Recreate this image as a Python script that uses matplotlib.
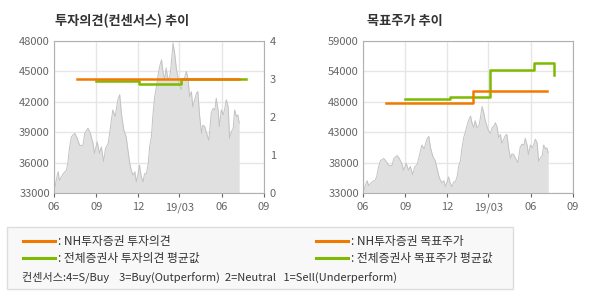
import matplotlib
matplotlib.use('Agg')
from matplotlib import pyplot as plt
from matplotlib.patches import Rectangle
from matplotlib.lines import Line2D

plt.rcParams['font.family'] = ['Noto Sans CJK KR', 'DejaVu Sans']

# 주가 (2018-06-01 기준 경과일, 종가)
price_days = [0, 2, 5, 9, 12, 20, 27, 30, 34, 38, 45, 49, 56, 63, 67, 74, 79, 85, 88,
              94, 99, 103, 108, 112, 118, 123, 128, 133, 139, 143, 147, 152, 157, 161,
              165, 168, 172, 176, 179, 183, 186, 190, 194, 197, 201, 205, 208, 212, 215,
              219, 223, 226, 230, 234, 237, 241, 244, 248, 252, 255, 259, 263, 266, 270,
              273, 277, 281, 284, 288, 292, 295, 299, 302, 306, 310, 313, 317, 321, 324,
              328, 331, 337, 342, 346, 350, 353, 357, 360, 364, 368, 371, 375, 379, 382,
              386, 390, 393, 397, 400, 403]
price = [33300, 33500, 34300, 35100, 34250, 34900, 35250, 35900, 37550, 38550, 38900,
         38550, 37700, 37700, 38900, 39400, 38900, 37900, 36900, 38050, 36900, 37550,
         36100, 37400, 37900, 39550, 41200, 40550, 42200, 42700, 40700, 39200, 38550,
         37200, 35900, 35250, 34750, 35100, 34100, 34900, 35750, 34600, 34100, 34900,
         34900, 35900, 37550, 38550, 40550, 42500, 43500, 44500, 45500, 46150, 45000,
         44200, 45350, 44200, 44500, 45650, 47800, 46650, 45350, 44350, 43650, 43200,
         44200, 44350, 45000, 44200, 42500, 43000, 41500, 42200, 42850, 43000, 40550,
         38900, 39700, 39550, 39050, 38200, 40850, 41350, 41200, 42350, 41200, 39550,
         41200, 40700, 41200, 42200, 41500, 38400, 39050, 39400, 41200, 40550, 40700,
         39900]

# 투자의견 (4=S/Buy, 3=Buy, 2=Neutral, 1=Sell)
op_nh_days = [50, 402]
op_nh = [3, 3]
op_avg_days = [92, 186, 277, 417]
op_avg = [2.95, 2.87, 3.0, 3.0]

# 목표주가
tp_nh_days = [49, 240, 401]
tp_nh = [48400, 50500, 50500]
tp_avg_days = [92, 189, 277, 372, 415]
tp_avg = [49100, 49400, 54100, 55150, 53150]

x_ticks = [0, 92, 183, 273, 365, 457]
x_labels = ['06', '09', '12', '19/03', '06', '09']

ORANGE = '#f27900'
GREEN = '#7dba00'
GRID = '#e6e6e6'
TXT = '#666666'

fig = plt.figure(figsize=(5.9, 3.0), dpi=100)


def base_axes(rect, ylim, yticks, ylabels):
    ax = fig.add_axes(rect)
    ax.fill_between(price_days, price, ylim[0], color='#e0e0e0', lw=0, zorder=1)
    ax.plot(price_days, price, color='#c2c2c2', lw=0.7, zorder=2)
    ax.set_xlim(0, 457)
    ax.set_ylim(*ylim)
    ax.set_xticks(x_ticks)
    ax.set_xticklabels(x_labels)
    ax.set_yticks(yticks)
    ax.set_yticklabels(ylabels)
    ax.grid(True, color=GRID, lw=1, zorder=0)
    ax.set_axisbelow(True)
    for s in ax.spines.values():
        s.set_color('#b0b0b0')
    ax.tick_params(colors=TXT, labelsize=8, length=3, width=0.8)
    ax.tick_params(axis='y', length=0, pad=3)
    return ax


# 왼쪽: 투자의견 추이
ax1 = base_axes([0.0915, 0.3567, 0.356, 0.5067], (33000, 48000),
                [33000, 36000, 39000, 42000, 45000, 48000],
                ['33000', '36000', '39000', '42000', '45000', '48000'])
ax1b = ax1.twinx()
ax1b.set_ylim(0, 4)
ax1b.set_yticks([0, 1, 2, 3, 4])
ax1b.tick_params(colors=TXT, labelsize=8, length=0, pad=4)
for s in ax1b.spines.values():
    s.set_visible(False)
ax1b.plot(op_avg_days, op_avg, drawstyle='steps-post', color=GREEN, lw=1.8, zorder=3)
ax1b.plot(op_nh_days, op_nh, drawstyle='steps-post', color=ORANGE, lw=1.8, zorder=4)
fig.text(0.093, 0.93, '투자의견(컨센서스) 추이', fontsize=9.5, fontweight='bold', color='#333333',
         va='center', ha='left')

# 오른쪽: 목표주가 추이
ax2 = base_axes([0.6153, 0.3567, 0.356, 0.5067], (33000, 59000),
                [33000, 38200, 43400, 48600, 53800, 59000],
                ['33000', '38000', '43000', '48000', '54000', '59000'])
ax2.plot(tp_avg_days, tp_avg, drawstyle='steps-post', color=GREEN, lw=1.8, zorder=3)
ax2.plot(tp_nh_days, tp_nh, drawstyle='steps-post', color=ORANGE, lw=1.8, zorder=4)
fig.text(0.622, 0.93, '목표주가 추이', fontsize=9.5, fontweight='bold', color='#333333',
         va='center', ha='left')

# 범례
fig.patches.append(Rectangle((7 / 590, 1 - 289 / 300), 506 / 590, 62 / 300,
                             transform=fig.transFigure, facecolor='#f8f8f8',
                             edgecolor='#dddddd', lw=1))
legend_items = [
    (23, 241, ORANGE, ': NH투자증권 투자의견'),
    (23, 258, GREEN, ': 전체증권사 투자의견 평균값'),
    (316, 241, ORANGE, ': NH투자증권 목표주가'),
    (316, 258, GREEN, ': 전체증권사 목표주가 평균값'),
]
for x0, y0, c, label in legend_items:
    fig.lines.append(Line2D([x0 / 590, (x0 + 32) / 590], [1 - y0 / 300] * 2,
                            transform=fig.transFigure, color=c, lw=2.2))
    fig.text((x0 + 35) / 590, 1 - y0 / 300, label, fontsize=8.5, color='#333333',
             va='center', ha='left')
fig.text(22 / 590, 1 - 277 / 300,
         '컨센서스:4=S/Buy    3=Buy(Outperform)  2=Neutral   1=Sell(Underperform)',
         fontsize=8, color='#333333', va='center', ha='left')

plt.savefig('out.png', dpi=100)
